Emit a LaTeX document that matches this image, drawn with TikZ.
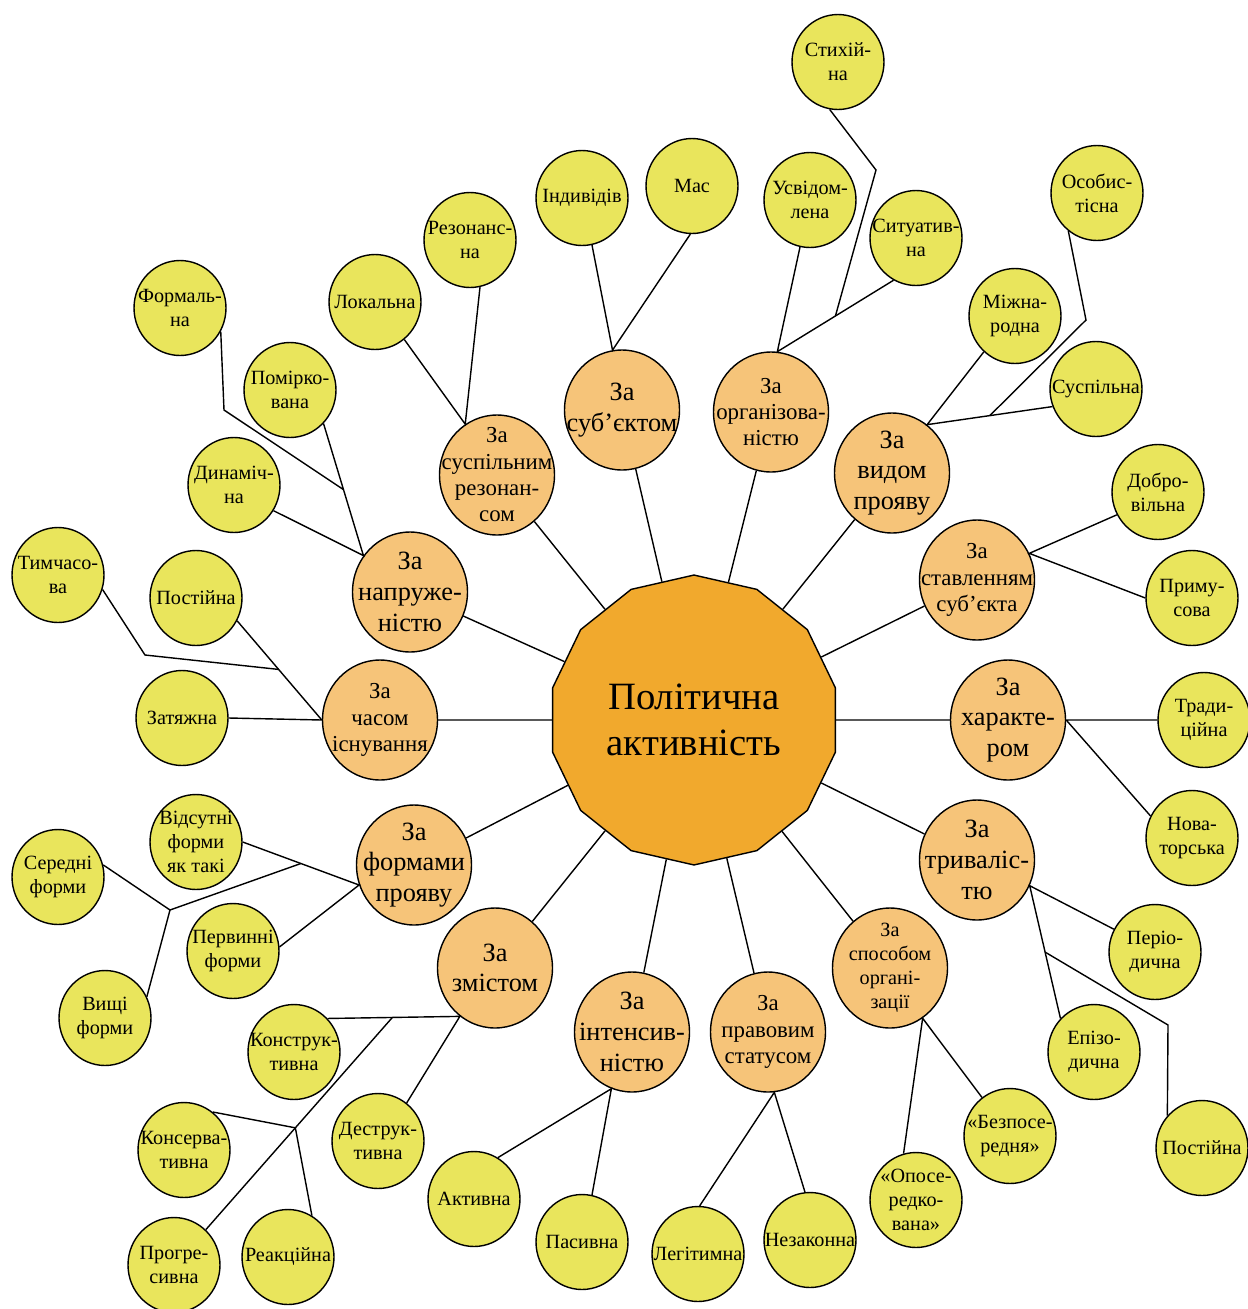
\documentclass[tikz,border=0pt]{standalone}
\usepackage{fontspec}
\setmainfont{Liberation Serif}
\usetikzlibrary{shapes.geometric,calc}
\definecolor{leafyellow}{RGB}{233,229,92}
\definecolor{critorange}{RGB}{246,196,121}
\definecolor{mainorange}{RGB}{241,169,45}

\begin{document}
\begin{tikzpicture}[x=0.02cm,y=-0.02cm,line width=0.8pt,
    leaf/.style={ellipse,draw,fill=leafyellow,minimum width=1.84cm,minimum height=1.9cm,
        inner sep=-0.5cm,align=center,font=\fontsize{11.5}{13.6}\selectfont},
    crit/.style={ellipse,draw,fill=critorange,minimum width=2.3cm,minimum height=2.4cm,
        inner sep=-0.5cm,align=center,font=\fontsize{15}{17.5}\selectfont},
    critsmall/.style={crit,font=\fontsize{13}{15}\selectfont}]
            \useasboundingbox (0,0) rectangle (1248,1309);

            \node[regular polygon,regular polygon sides=14,shape border rotate=90,draw,
                fill=mainorange,minimum size=5.8cm,inner sep=0pt,align=center,
                font=\fontsize{22}{26.6}\selectfont] (P) at (694,720) {Політична\\активність};

            \node[crit] (A) at (622,410) {За\\суб’єктом};
            \node[critsmall] (B) at (771,412) {За\\організова-\\ністю};
            \node[crit] (C) at (892,473) {За\\видом\\прояву};
            \node[critsmall] (D) at (977,580) {За\\ставленням\\суб’єкта};
            \node[crit] (E) at (1008,720) {За\\характе-\\ром};
            \node[crit] (F) at (977,860) {За\\триваліс-\\тю};
            \node[crit,font=\fontsize{11.5}{13.6}\selectfont] (G) at (890,968) {За\\способом\\органі-\\зації};
            \node[critsmall] (H) at (768,1032) {За\\правовим\\статусом};
            \node[crit] (I) at (632,1032) {За\\інтенсив-\\ністю};
            \node[crit] (J) at (495,968) {За\\змістом};
            \node[crit] (K) at (414,865) {За\\формами\\прояву};
            \node[critsmall] (L) at (380,720) {За\\часом\\існування};
            \node[crit] (M) at (410,592) {За\\напруже-\\ністю};
            \node[critsmall] (N) at (497,475) {За\\суспільним\\резонан-\\сом};

            \node[leaf] (A1) at (582,198) {Індивідів};
            \node[leaf] (A2) at (692,186) {Мас};
            \node[leaf] (B1) at (810,200) {Усвідом-\\лена};
            \node[leaf] (B2) at (916,238) {Ситуатив-\\на};
            \node[leaf] (B3) at (838,62) {Стихій-\\на};
            \node[leaf] (C1) at (1015,316) {Міжна-\\родна};
            \node[leaf] (C2) at (1096,389) {Суспільна};
            \node[leaf] (C3) at (1097,193) {Особис-\\тісна};
            \node[leaf] (D1) at (1158,492) {Добро-\\вільна};
            \node[leaf] (D2) at (1192,598) {Приму-\\сова};
            \node[leaf] (E1) at (1204,720) {Тради-\\ційна};
            \node[leaf] (E2) at (1192,838) {Нова-\\торська};
            \node[leaf] (F1) at (1155,952) {Періо-\\дична};
            \node[leaf] (F2) at (1094,1052) {Епізо-\\дична};
            \node[leaf] (F3) at (1202,1148) {Постійна};
            \node[leaf] (G1) at (1010,1136) {«Безпосе-\\редня»};
            \node[leaf] (G2) at (916,1200) {«Опосе-\\редко-\\вана»};
            \node[leaf] (H1) at (810,1240) {Незаконна};
            \node[leaf] (H2) at (698,1254) {Легітимна};
            \node[leaf] (I1) at (582,1242) {Пасивна};
            \node[leaf] (I2) at (474,1199) {Активна};
            \node[leaf] (J1) at (378,1141) {Деструк-\\тивна};
            \node[leaf] (J2) at (294,1052) {Конструк-\\тивна};
            \node[leaf] (J3) at (184,1150) {Консерва-\\тивна};
            \node[leaf] (J4) at (288,1257) {Реакційна};
            \node[leaf] (J5) at (174,1265) {Прогре-\\сивна};
            \node[leaf] (K1) at (233,951) {Первинні\\форми};
            \node[leaf] (K2) at (196,842) {Відсутні\\форми\\як такі};
            \node[leaf] (K3) at (58,877) {Середні\\форми};
            \node[leaf] (K4) at (105,1018) {Вищі\\форми};
            \node[leaf] (L1) at (182,718) {Затяжна};
            \node[leaf] (L2) at (196,598) {Постійна};
            \node[leaf] (L3) at (58,575) {Тимчасо-\\ва};
            \node[leaf] (M1) at (234,485) {Динаміч-\\на};
            \node[leaf] (M2) at (290,390) {Помірко-\\вана};
            \node[leaf] (M3) at (180,308) {Формаль-\\на};
            \node[leaf] (N1) at (375,302) {Локальна};
            \node[leaf] (N2) at (470,240) {Резонанс-\\на};

            \draw (P) -- (A);
            \draw (P) -- (B);
            \draw (P) -- (C);
            \draw (P) -- (D);
            \draw (P) -- (E);
            \draw (P) -- (F);
            \draw (P) -- (G);
            \draw (P) -- (H);
            \draw (P) -- (I);
            \draw (P) -- (J);
            \draw (P) -- (K);
            \draw (P) -- (L);
            \draw (P) -- (M);
            \draw (P) -- (N);

            \draw (A1.-78) -- (A.99) -- (A2.-92);

            \draw (B1.-102) -- (B.84) -- (B2.-118);
            \coordinate (X1) at ($(B.84)!0.5!(B2.-118)$);
            \draw (B3.-100) -- (876,170) -- (X1);

            \draw (C1.-131) -- (C.54) -- (C2.-158);
            \coordinate (X2) at ($(C.54)!0.5!(C2.-158)$);
            \draw (C3.-127) -- (1086,320) -- (X2);

            \draw (D1.-151) -- (D.27) -- (D2.180);
            \draw (E1.180) -- (E.0) -- (E2.152);

            \draw (F1.151) -- (F.-26) -- (F2.135);
            \coordinate (X3) at ($(F.-26)!0.5!(F2.135)$);
            \draw (X3) -- (1168,1025) -- (F3.137);

            \draw (G1.126) -- (G.-57) -- (G2.105);
            \draw (H1.96) -- (H.-84) -- (H2.88);
            \draw (I1.78) -- (I.-110) -- (I2.60);

            \draw (J1.53) -- (J.-126) -- (J2.45);
            \coordinate (X4) at ($(J2.45)!0.49!(J.-126)$);
            \draw (X4) -- (J5.48);
            \coordinate (X5) at ($(X4)!0.52!(J5.48)$);
            \draw (J3.53) -- (X5) -- (J4.60);

            \draw (K1.5) -- (K.-160) -- (K2.0);
            \coordinate (X6) at ($(K2.0)!0.5!(K.-160)$);
            \coordinate (X7) at (170,910);
            \draw (K3.15) -- (X7) -- (K4.27);
            \draw (X7) -- (X6);

            \draw (L1.0) -- (L.180) -- (L2.-29);
            \coordinate (X8) at ($(L2.-29)!0.49!(L.180)$);
            \draw (L3.-18) -- (145,655) -- (X8);

            \draw (M1.-33) -- (M.142) -- (M2.-45);
            \coordinate (X9) at ($(M2.-45)!0.5!(M.142)$);
            \draw (M3.-30) -- (224,410) -- (X9);

            \draw (N1.-52) -- (N.122) -- (N2.-78);
\end{tikzpicture}
\end{document}
